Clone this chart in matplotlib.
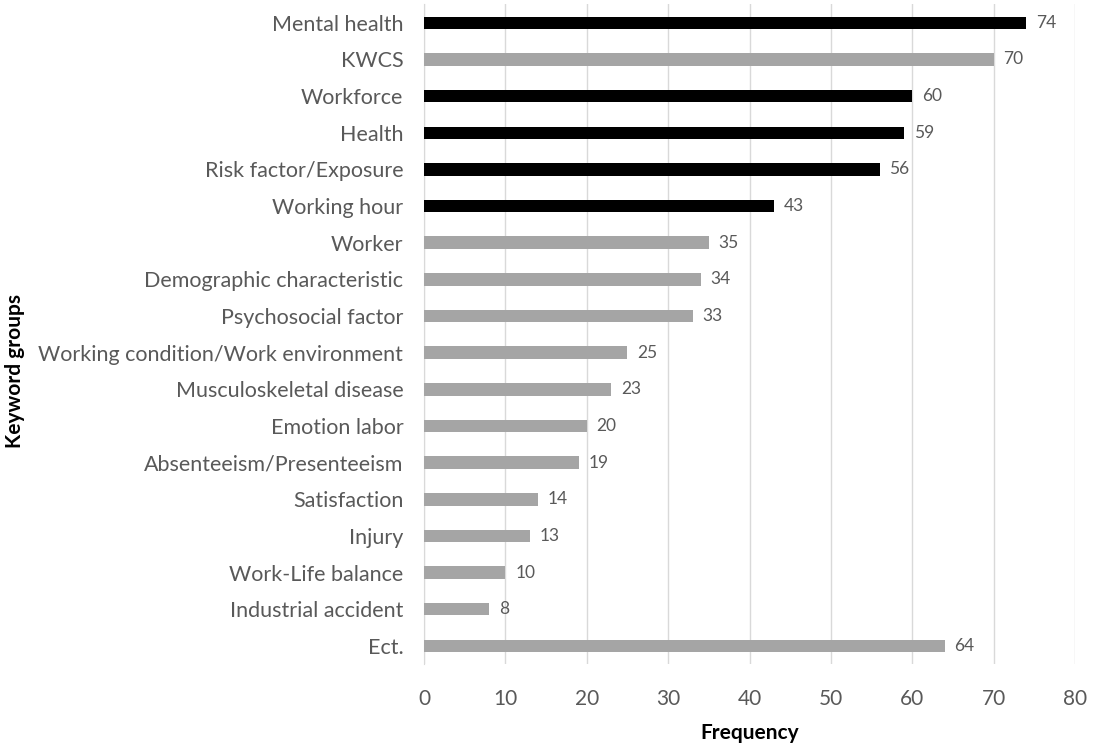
import matplotlib.pyplot as plt

plt.rcParams['font.family'] = ['Lato', 'DejaVu Sans']

keywords = ['Mental health', 'KWCS', 'Workforce', 'Health', 'Risk factor/Exposure',
            'Working hour', 'Worker', 'Demographic characteristic', 'Psychosocial factor',
            'Working condition/Work environment', 'Musculoskeletal disease', 'Emotion labor',
            'Absenteeism/Presenteeism', 'Satisfaction', 'Injury', 'Work-Life balance',
            'Industrial accident', 'Ect.']
frequency = [74, 70, 60, 59, 56, 43, 35, 34, 33, 25, 23, 20, 19, 14, 13, 10, 8, 64]
highlight = [True, False, True, True, True, True, False, False, False, False,
             False, False, False, False, False, False, False, False]

text_col = '#595959'
fig = plt.figure(figsize=(10.93, 7.43), dpi=100)
ax = fig.add_axes([0.388, 0.106, 0.5955, 0.888])

pos = list(range(len(keywords)))
colors = ['black' if h else '#a5a5a5' for h in highlight]
ax.barh(pos, frequency, height=0.34, color=colors, zorder=3)
for p, v in zip(pos, frequency):
    ax.text(v + 1.2, p, str(v), va='center', ha='left', fontsize=12.5, color=text_col)

ax.set_ylim(len(keywords) - 0.5, -0.5)
ax.set_xlim(0, 80)
ax.set_xticks(range(0, 81, 10))
ax.set_yticks(pos)
ax.set_yticklabels(keywords, fontsize=15.5, color=text_col)
ax.tick_params(axis='x', labelsize=15, labelcolor=text_col, length=0, pad=18)
ax.tick_params(axis='y', length=0, pad=15)
ax.grid(axis='x', color='#d9d9d9', linewidth=1, zorder=0)
for s in ['top', 'right', 'bottom']:
    ax.spines[s].set_visible(False)
ax.spines['left'].set_color('#d9d9d9')

ax.set_xlabel('Frequency', fontsize=15, fontweight='bold', labelpad=10)
fig.text(0.014, 0.5, 'Keyword groups', rotation=90, fontsize=15, fontweight='bold',
         va='center', ha='center')

fig.savefig('out.png', dpi=100)
